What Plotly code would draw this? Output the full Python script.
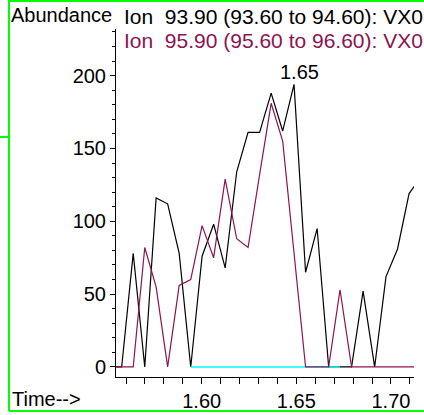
import plotly.graph_objects as go

# ---- data ----
time_min = [1.5517, 1.5577, 1.5638, 1.5699, 1.5759, 1.5820, 1.5881, 1.5942,
            1.6002, 1.6063, 1.6124, 1.6185, 1.6245, 1.6306, 1.6367, 1.6428,
            1.6488, 1.6549, 1.6610, 1.6671, 1.6731, 1.6792, 1.6853, 1.6914,
            1.6974, 1.7035, 1.7096, 1.7157]
ion_93_90 = [0, 0, 78, 0, 116, 112, 78, 0,
             76, 98, 68, 134, 161, 161, 188, 162,
             194, 65, 95, 0, 0, 0, 52, 0,
             62, 81, 119, 130]
ion_95_90 = [0, 0, 0, 82, 55, 0, 56, 60,
             97, 75, 129, 88, 82, 132, 181, 155,
             77, 0, 0, 0, 53, 0, 0, 0,
             0, 0, 0, 0]
baseline_time = [1.5942, 1.6731]
baseline_value = [0, 0]
peak_time = 1.6488
peak_value = 194
peak_label = "1.65"

x_range = [1.5547, 1.7122]
y_range = [-6.9, 232]
y_ticks = [0, 50, 100, 150, 200]
x_ticks = [1.60, 1.65, 1.70]

legend_1 = "Ion\u00a0\u00a093.90 (93.60 to 94.60): VX0"
legend_2 = "Ion\u00a0\u00a095.90 (95.60 to 96.60): VX0"

BLACK = "#000000"
WINE = "#8c1450"
CYAN = "#00ffff"
GREEN = "#00ff00"
FONT = "Liberation Sans, Arial, sans-serif"

# plot area in pixels (for placing outer texts/frame)
W, H = 424, 415
L, R, T, B = 116, 10, 29, 38
pw, ph = W - L - R, H - T - B


def px(x):
    return (x - L) / pw


def py(y):
    return (H - B - y) / ph


fig = go.Figure()
fig.add_trace(go.Scatter(x=time_min, y=ion_93_90, mode="lines",
                         line=dict(color=BLACK, width=1.2), showlegend=False))
fig.add_trace(go.Scatter(x=baseline_time, y=baseline_value, mode="lines",
                         line=dict(color=CYAN, width=1.5), showlegend=False))
fig.add_trace(go.Scatter(x=time_min, y=ion_95_90, mode="lines",
                         line=dict(color=WINE, width=1.2), showlegend=False))

fig.add_annotation(x=peak_time, y=peak_value, text=peak_label, showarrow=False,
                   xanchor="center", yanchor="bottom", xshift=5, yshift=-1,
                   font=dict(family=FONT, size=20, color=BLACK))

fig.add_annotation(xref="paper", yref="paper", x=px(9), y=py(15), text="Abundance",
                   showarrow=False, xanchor="left", yanchor="middle",
                   font=dict(family=FONT, size=20, color=BLACK))
fig.add_annotation(xref="paper", yref="paper", x=px(122), y=py(17), text=legend_1,
                   showarrow=False, xanchor="left", yanchor="middle",
                   font=dict(family=FONT, size=21, color=BLACK))
fig.add_annotation(xref="paper", yref="paper", x=px(122), y=py(40), text=legend_2,
                   showarrow=False, xanchor="left", yanchor="middle",
                   font=dict(family=FONT, size=21, color=WINE))
fig.add_annotation(xref="paper", yref="paper", x=px(10), y=py(399), text="Time-->",
                   showarrow=False, xanchor="left", yanchor="middle",
                   font=dict(family=FONT, size=20, color=BLACK))

# green frame
frame = [
    (9, 0, 9, 411),
    (9, 411, 430, 411),
    (9, 1, 430, 1),
    (0, 137, 9, 137),
]
for x0, y0, x1, y1 in frame:
    fig.add_shape(type="line", xref="paper", yref="paper",
                  x0=px(x0), y0=py(y0), x1=px(x1), y1=py(y1),
                  line=dict(color=GREEN, width=2), layer="above")

fig.update_layout(
    width=W, height=H,
    margin=dict(l=L, r=R, t=T, b=B, pad=0, autoexpand=False),
    paper_bgcolor="white", plot_bgcolor="white",
    font=dict(family=FONT, size=20, color=BLACK),
    showlegend=False,
    xaxis=dict(range=x_range, tickmode="array", tickvals=x_ticks,
               ticktext=[f"{v:.2f}" for v in x_ticks], automargin=False,
               ticks="outside", ticklen=6, tickcolor=BLACK, tickwidth=1,
               showline=True, linecolor=BLACK, linewidth=1,
               showgrid=False, zeroline=False,
               minor=dict(tick0=1.60, dtick=0.01, ticks="outside", ticklen=6,
                          tickcolor=BLACK, tickwidth=1, showgrid=False),
               tickfont=dict(family=FONT, size=20, color=BLACK)),
    yaxis=dict(range=y_range, tickmode="array", tickvals=y_ticks, automargin=False,
               ticks="outside", ticklen=5, tickcolor=BLACK, tickwidth=1,
               showline=True, linecolor=BLACK, linewidth=1,
               showgrid=False, zeroline=False,
               minor=dict(tick0=0, dtick=10, ticks="outside", ticklen=3,
                          tickcolor=BLACK, tickwidth=1, showgrid=False),
               tickfont=dict(family=FONT, size=20, color=BLACK)),
)

fig.write_html(
    "out.html",
    config={"displayModeBar": False},
    post_script="document.body.style.margin='0';document.body.style.padding='0';",
)
